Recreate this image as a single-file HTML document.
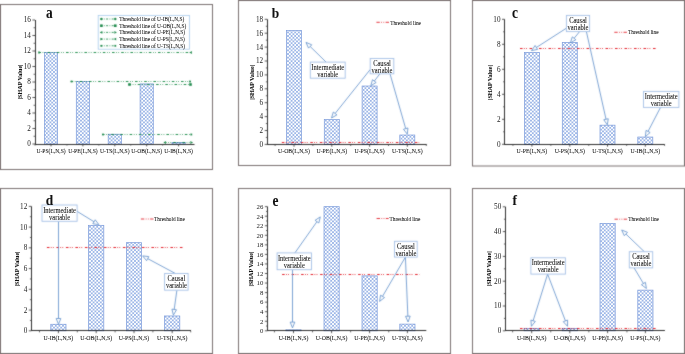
<!DOCTYPE html>
<html><head><meta charset="utf-8"><style>
html,body{margin:0;padding:0;background:#fff;width:685px;height:354px;overflow:hidden;}
svg{display:block;font-family:"Liberation Serif",serif;will-change:transform;}
text{stroke:#111;stroke-width:0.05px;}
text.t{stroke:none;fill:#222;}
</style></head><body>
<svg width="685" height="354" viewBox="0 0 685 354" font-family="Liberation Serif, serif" fill="#111" stroke-linecap="butt">
<defs><filter id="bl" filterUnits="userSpaceOnUse" x="0" y="0" width="685" height="354" color-interpolation-filters="sRGB"><feConvolveMatrix order="3" kernelMatrix="1 2 1 2 16 2 1 2 1" divisor="28" edgeMode="duplicate"/></filter><pattern id="hatch" patternUnits="userSpaceOnUse" width="3.6" height="3.6"><rect width="3.6" height="3.6" fill="#fff"/><path d="M-1,-1 L4.6,4.6 M4.6,-1 L-1,4.6" stroke="#88a7e2" stroke-width="0.75" fill="none"/></pattern></defs>
<rect width="685" height="354" fill="#fff"/>
<g><rect x="44.4" y="52.55" width="13.2" height="91.45" fill="url(#hatch)" stroke="#809fdc" stroke-width="0.75"/>
<rect x="76.3" y="81.61" width="13.2" height="62.39" fill="url(#hatch)" stroke="#809fdc" stroke-width="0.75"/>
<rect x="108.2" y="134.24" width="13.2" height="9.76" fill="url(#hatch)" stroke="#809fdc" stroke-width="0.75"/>
<rect x="140.1" y="83.94" width="13.2" height="60.06" fill="url(#hatch)" stroke="#809fdc" stroke-width="0.75"/>
<rect x="172" y="142.45" width="13.2" height="1.55" fill="url(#hatch)" stroke="#809fdc" stroke-width="0.75"/>
<rect x="286.5" y="30.42" width="15" height="113.98" fill="url(#hatch)" stroke="#809fdc" stroke-width="0.75"/>
<rect x="324.3" y="119.59" width="15" height="24.81" fill="url(#hatch)" stroke="#809fdc" stroke-width="0.75"/>
<rect x="362.1" y="86.02" width="15" height="58.38" fill="url(#hatch)" stroke="#809fdc" stroke-width="0.75"/>
<rect x="399.8" y="135.02" width="15" height="9.38" fill="url(#hatch)" stroke="#809fdc" stroke-width="0.75"/>
<rect x="524.4" y="52.43" width="15" height="91.88" fill="url(#hatch)" stroke="#809fdc" stroke-width="0.75"/>
<rect x="562.3" y="42.43" width="15" height="101.88" fill="url(#hatch)" stroke="#809fdc" stroke-width="0.75"/>
<rect x="600" y="125.18" width="15" height="19.12" fill="url(#hatch)" stroke="#809fdc" stroke-width="0.75"/>
<rect x="637.8" y="137.05" width="15" height="7.25" fill="url(#hatch)" stroke="#809fdc" stroke-width="0.75"/>
<rect x="50.8" y="324.27" width="15.2" height="6.53" fill="url(#hatch)" stroke="#809fdc" stroke-width="0.75"/>
<rect x="88.6" y="225.34" width="15.2" height="105.46" fill="url(#hatch)" stroke="#809fdc" stroke-width="0.75"/>
<rect x="126.4" y="242.66" width="15.2" height="88.14" fill="url(#hatch)" stroke="#809fdc" stroke-width="0.75"/>
<rect x="164.6" y="315.97" width="15.2" height="14.83" fill="url(#hatch)" stroke="#809fdc" stroke-width="0.75"/>
<rect x="285.9" y="329.85" width="15.2" height="0.95" fill="url(#hatch)" stroke="#809fdc" stroke-width="0.75"/>
<rect x="324" y="206.65" width="15.2" height="124.15" fill="url(#hatch)" stroke="#809fdc" stroke-width="0.75"/>
<rect x="362" y="275.89" width="15.2" height="54.91" fill="url(#hatch)" stroke="#809fdc" stroke-width="0.75"/>
<rect x="399.8" y="324.12" width="15.2" height="6.69" fill="url(#hatch)" stroke="#809fdc" stroke-width="0.75"/>
<rect x="524.1" y="328.32" width="15.2" height="2.48" fill="url(#hatch)" stroke="#809fdc" stroke-width="0.75"/>
<rect x="562.2" y="328.32" width="15.2" height="2.48" fill="url(#hatch)" stroke="#809fdc" stroke-width="0.75"/>
<rect x="600" y="223.42" width="15.2" height="107.38" fill="url(#hatch)" stroke="#809fdc" stroke-width="0.75"/>
<rect x="637.8" y="290.13" width="15.2" height="40.67" fill="url(#hatch)" stroke="#809fdc" stroke-width="0.75"/></g>
<g filter="url(#bl)">
<rect x="0.5" y="4.5" width="212" height="165" fill="none" stroke="#7a7070" stroke-width="1"/>
<line x1="35.5" y1="20" x2="35.5" y2="145" stroke="#2e2e2e" stroke-width="1" />
<line x1="35" y1="144.5" x2="194.5" y2="144.5" stroke="#2e2e2e" stroke-width="1" />
<line x1="32.4" y1="144" x2="35" y2="144" stroke="#2e2e2e" stroke-width="0.8" />
<line x1="32.4" y1="128.5" x2="35" y2="128.5" stroke="#2e2e2e" stroke-width="0.8" />
<line x1="32.4" y1="113" x2="35" y2="113" stroke="#2e2e2e" stroke-width="0.8" />
<line x1="32.4" y1="97.5" x2="35" y2="97.5" stroke="#2e2e2e" stroke-width="0.8" />
<line x1="32.4" y1="82" x2="35" y2="82" stroke="#2e2e2e" stroke-width="0.8" />
<line x1="32.4" y1="66.5" x2="35" y2="66.5" stroke="#2e2e2e" stroke-width="0.8" />
<line x1="32.4" y1="51" x2="35" y2="51" stroke="#2e2e2e" stroke-width="0.8" />
<line x1="32.4" y1="35.5" x2="35" y2="35.5" stroke="#2e2e2e" stroke-width="0.8" />
<line x1="32.4" y1="20" x2="35" y2="20" stroke="#2e2e2e" stroke-width="0.8" />
<line x1="33.5" y1="136.25" x2="35" y2="136.25" stroke="#2e2e2e" stroke-width="0.7" />
<line x1="33.5" y1="120.75" x2="35" y2="120.75" stroke="#2e2e2e" stroke-width="0.7" />
<line x1="33.5" y1="105.25" x2="35" y2="105.25" stroke="#2e2e2e" stroke-width="0.7" />
<line x1="33.5" y1="89.75" x2="35" y2="89.75" stroke="#2e2e2e" stroke-width="0.7" />
<line x1="33.5" y1="74.25" x2="35" y2="74.25" stroke="#2e2e2e" stroke-width="0.7" />
<line x1="33.5" y1="58.75" x2="35" y2="58.75" stroke="#2e2e2e" stroke-width="0.7" />
<line x1="33.5" y1="43.25" x2="35" y2="43.25" stroke="#2e2e2e" stroke-width="0.7" />
<line x1="33.5" y1="27.75" x2="35" y2="27.75" stroke="#2e2e2e" stroke-width="0.7" />
<line x1="51" y1="144" x2="51" y2="146.4" stroke="#2e2e2e" stroke-width="0.8" />
<line x1="82.9" y1="144" x2="82.9" y2="146.4" stroke="#2e2e2e" stroke-width="0.8" />
<line x1="114.8" y1="144" x2="114.8" y2="146.4" stroke="#2e2e2e" stroke-width="0.8" />
<line x1="146.7" y1="144" x2="146.7" y2="146.4" stroke="#2e2e2e" stroke-width="0.8" />
<line x1="178.6" y1="144" x2="178.6" y2="146.4" stroke="#2e2e2e" stroke-width="0.8" />
<line x1="35.05" y1="144" x2="35.05" y2="145.6" stroke="#2e2e2e" stroke-width="0.7" />
<line x1="66.95" y1="144" x2="66.95" y2="145.6" stroke="#2e2e2e" stroke-width="0.7" />
<line x1="98.85" y1="144" x2="98.85" y2="145.6" stroke="#2e2e2e" stroke-width="0.7" />
<line x1="130.75" y1="144" x2="130.75" y2="145.6" stroke="#2e2e2e" stroke-width="0.7" />
<line x1="162.65" y1="144" x2="162.65" y2="145.6" stroke="#2e2e2e" stroke-width="0.7" />
<rect x="238.5" y="0.5" width="212" height="165" fill="none" stroke="#7a7070" stroke-width="1"/>
<line x1="267.5" y1="19.3" x2="267.5" y2="145" stroke="#2e2e2e" stroke-width="1" />
<line x1="267" y1="144.5" x2="426.7" y2="144.5" stroke="#2e2e2e" stroke-width="1" />
<line x1="264.7" y1="144.4" x2="267.3" y2="144.4" stroke="#2e2e2e" stroke-width="0.8" />
<line x1="264.7" y1="130.5" x2="267.3" y2="130.5" stroke="#2e2e2e" stroke-width="0.8" />
<line x1="264.7" y1="116.6" x2="267.3" y2="116.6" stroke="#2e2e2e" stroke-width="0.8" />
<line x1="264.7" y1="102.7" x2="267.3" y2="102.7" stroke="#2e2e2e" stroke-width="0.8" />
<line x1="264.7" y1="88.8" x2="267.3" y2="88.8" stroke="#2e2e2e" stroke-width="0.8" />
<line x1="264.7" y1="74.9" x2="267.3" y2="74.9" stroke="#2e2e2e" stroke-width="0.8" />
<line x1="264.7" y1="61" x2="267.3" y2="61" stroke="#2e2e2e" stroke-width="0.8" />
<line x1="264.7" y1="47.1" x2="267.3" y2="47.1" stroke="#2e2e2e" stroke-width="0.8" />
<line x1="264.7" y1="33.2" x2="267.3" y2="33.2" stroke="#2e2e2e" stroke-width="0.8" />
<line x1="264.7" y1="19.3" x2="267.3" y2="19.3" stroke="#2e2e2e" stroke-width="0.8" />
<line x1="265.8" y1="137.45" x2="267.3" y2="137.45" stroke="#2e2e2e" stroke-width="0.7" />
<line x1="265.8" y1="123.55" x2="267.3" y2="123.55" stroke="#2e2e2e" stroke-width="0.7" />
<line x1="265.8" y1="109.65" x2="267.3" y2="109.65" stroke="#2e2e2e" stroke-width="0.7" />
<line x1="265.8" y1="95.75" x2="267.3" y2="95.75" stroke="#2e2e2e" stroke-width="0.7" />
<line x1="265.8" y1="81.85" x2="267.3" y2="81.85" stroke="#2e2e2e" stroke-width="0.7" />
<line x1="265.8" y1="67.95" x2="267.3" y2="67.95" stroke="#2e2e2e" stroke-width="0.7" />
<line x1="265.8" y1="54.05" x2="267.3" y2="54.05" stroke="#2e2e2e" stroke-width="0.7" />
<line x1="265.8" y1="40.15" x2="267.3" y2="40.15" stroke="#2e2e2e" stroke-width="0.7" />
<line x1="265.8" y1="26.25" x2="267.3" y2="26.25" stroke="#2e2e2e" stroke-width="0.7" />
<line x1="294" y1="144.4" x2="294" y2="146.8" stroke="#2e2e2e" stroke-width="0.8" />
<line x1="331.8" y1="144.4" x2="331.8" y2="146.8" stroke="#2e2e2e" stroke-width="0.8" />
<line x1="369.6" y1="144.4" x2="369.6" y2="146.8" stroke="#2e2e2e" stroke-width="0.8" />
<line x1="407.3" y1="144.4" x2="407.3" y2="146.8" stroke="#2e2e2e" stroke-width="0.8" />
<line x1="275.1" y1="144.4" x2="275.1" y2="146" stroke="#2e2e2e" stroke-width="0.7" />
<line x1="312.9" y1="144.4" x2="312.9" y2="146" stroke="#2e2e2e" stroke-width="0.7" />
<line x1="350.7" y1="144.4" x2="350.7" y2="146" stroke="#2e2e2e" stroke-width="0.7" />
<line x1="388.5" y1="144.4" x2="388.5" y2="146" stroke="#2e2e2e" stroke-width="0.7" />
<line x1="426.3" y1="144.4" x2="426.3" y2="146" stroke="#2e2e2e" stroke-width="0.7" />
<rect x="472.5" y="0.5" width="212" height="165.5" fill="none" stroke="#7a7070" stroke-width="1"/>
<line x1="504.5" y1="19.3" x2="504.5" y2="145" stroke="#2e2e2e" stroke-width="1" />
<line x1="504" y1="144.5" x2="664.8" y2="144.5" stroke="#2e2e2e" stroke-width="1" />
<line x1="502" y1="144.3" x2="504.6" y2="144.3" stroke="#2e2e2e" stroke-width="0.8" />
<line x1="502" y1="119.3" x2="504.6" y2="119.3" stroke="#2e2e2e" stroke-width="0.8" />
<line x1="502" y1="94.3" x2="504.6" y2="94.3" stroke="#2e2e2e" stroke-width="0.8" />
<line x1="502" y1="69.3" x2="504.6" y2="69.3" stroke="#2e2e2e" stroke-width="0.8" />
<line x1="502" y1="44.3" x2="504.6" y2="44.3" stroke="#2e2e2e" stroke-width="0.8" />
<line x1="502" y1="19.3" x2="504.6" y2="19.3" stroke="#2e2e2e" stroke-width="0.8" />
<line x1="503.1" y1="131.8" x2="504.6" y2="131.8" stroke="#2e2e2e" stroke-width="0.7" />
<line x1="503.1" y1="106.8" x2="504.6" y2="106.8" stroke="#2e2e2e" stroke-width="0.7" />
<line x1="503.1" y1="81.8" x2="504.6" y2="81.8" stroke="#2e2e2e" stroke-width="0.7" />
<line x1="503.1" y1="56.8" x2="504.6" y2="56.8" stroke="#2e2e2e" stroke-width="0.7" />
<line x1="503.1" y1="31.8" x2="504.6" y2="31.8" stroke="#2e2e2e" stroke-width="0.7" />
<line x1="531.9" y1="144.3" x2="531.9" y2="146.7" stroke="#2e2e2e" stroke-width="0.8" />
<line x1="569.8" y1="144.3" x2="569.8" y2="146.7" stroke="#2e2e2e" stroke-width="0.8" />
<line x1="607.5" y1="144.3" x2="607.5" y2="146.7" stroke="#2e2e2e" stroke-width="0.8" />
<line x1="645.3" y1="144.3" x2="645.3" y2="146.7" stroke="#2e2e2e" stroke-width="0.8" />
<line x1="512.95" y1="144.3" x2="512.95" y2="145.9" stroke="#2e2e2e" stroke-width="0.7" />
<line x1="550.85" y1="144.3" x2="550.85" y2="145.9" stroke="#2e2e2e" stroke-width="0.7" />
<line x1="588.75" y1="144.3" x2="588.75" y2="145.9" stroke="#2e2e2e" stroke-width="0.7" />
<line x1="626.65" y1="144.3" x2="626.65" y2="145.9" stroke="#2e2e2e" stroke-width="0.7" />
<line x1="664.55" y1="144.3" x2="664.55" y2="145.9" stroke="#2e2e2e" stroke-width="0.7" />
<rect x="0.5" y="188.5" width="212" height="165" fill="none" stroke="#7a7070" stroke-width="1"/>
<line x1="31.5" y1="206.36" x2="31.5" y2="331" stroke="#2e2e2e" stroke-width="1" />
<line x1="31" y1="330.5" x2="191" y2="330.5" stroke="#2e2e2e" stroke-width="1" />
<line x1="28.8" y1="330.8" x2="31.4" y2="330.8" stroke="#2e2e2e" stroke-width="0.8" />
<line x1="28.8" y1="310.06" x2="31.4" y2="310.06" stroke="#2e2e2e" stroke-width="0.8" />
<line x1="28.8" y1="289.32" x2="31.4" y2="289.32" stroke="#2e2e2e" stroke-width="0.8" />
<line x1="28.8" y1="268.58" x2="31.4" y2="268.58" stroke="#2e2e2e" stroke-width="0.8" />
<line x1="28.8" y1="247.84" x2="31.4" y2="247.84" stroke="#2e2e2e" stroke-width="0.8" />
<line x1="28.8" y1="227.1" x2="31.4" y2="227.1" stroke="#2e2e2e" stroke-width="0.8" />
<line x1="28.8" y1="206.36" x2="31.4" y2="206.36" stroke="#2e2e2e" stroke-width="0.8" />
<line x1="29.9" y1="320.43" x2="31.4" y2="320.43" stroke="#2e2e2e" stroke-width="0.7" />
<line x1="29.9" y1="299.69" x2="31.4" y2="299.69" stroke="#2e2e2e" stroke-width="0.7" />
<line x1="29.9" y1="278.95" x2="31.4" y2="278.95" stroke="#2e2e2e" stroke-width="0.7" />
<line x1="29.9" y1="258.21" x2="31.4" y2="258.21" stroke="#2e2e2e" stroke-width="0.7" />
<line x1="29.9" y1="237.47" x2="31.4" y2="237.47" stroke="#2e2e2e" stroke-width="0.7" />
<line x1="29.9" y1="216.73" x2="31.4" y2="216.73" stroke="#2e2e2e" stroke-width="0.7" />
<line x1="58.4" y1="330.8" x2="58.4" y2="333.2" stroke="#2e2e2e" stroke-width="0.8" />
<line x1="96.2" y1="330.8" x2="96.2" y2="333.2" stroke="#2e2e2e" stroke-width="0.8" />
<line x1="134" y1="330.8" x2="134" y2="333.2" stroke="#2e2e2e" stroke-width="0.8" />
<line x1="172.2" y1="330.8" x2="172.2" y2="333.2" stroke="#2e2e2e" stroke-width="0.8" />
<line x1="39.5" y1="330.8" x2="39.5" y2="332.4" stroke="#2e2e2e" stroke-width="0.7" />
<line x1="77.3" y1="330.8" x2="77.3" y2="332.4" stroke="#2e2e2e" stroke-width="0.7" />
<line x1="115.1" y1="330.8" x2="115.1" y2="332.4" stroke="#2e2e2e" stroke-width="0.7" />
<line x1="152.9" y1="330.8" x2="152.9" y2="332.4" stroke="#2e2e2e" stroke-width="0.7" />
<line x1="190.7" y1="330.8" x2="190.7" y2="332.4" stroke="#2e2e2e" stroke-width="0.7" />
<rect x="238.5" y="188.5" width="212" height="165" fill="none" stroke="#7a7070" stroke-width="1"/>
<line x1="267.5" y1="206.65" x2="267.5" y2="331" stroke="#2e2e2e" stroke-width="1" />
<line x1="267" y1="330.5" x2="426.3" y2="330.5" stroke="#2e2e2e" stroke-width="1" />
<line x1="264.9" y1="330.8" x2="267.5" y2="330.8" stroke="#2e2e2e" stroke-width="0.8" />
<line x1="264.9" y1="321.25" x2="267.5" y2="321.25" stroke="#2e2e2e" stroke-width="0.8" />
<line x1="264.9" y1="311.7" x2="267.5" y2="311.7" stroke="#2e2e2e" stroke-width="0.8" />
<line x1="264.9" y1="302.15" x2="267.5" y2="302.15" stroke="#2e2e2e" stroke-width="0.8" />
<line x1="264.9" y1="292.6" x2="267.5" y2="292.6" stroke="#2e2e2e" stroke-width="0.8" />
<line x1="264.9" y1="283.05" x2="267.5" y2="283.05" stroke="#2e2e2e" stroke-width="0.8" />
<line x1="264.9" y1="273.5" x2="267.5" y2="273.5" stroke="#2e2e2e" stroke-width="0.8" />
<line x1="264.9" y1="263.95" x2="267.5" y2="263.95" stroke="#2e2e2e" stroke-width="0.8" />
<line x1="264.9" y1="254.4" x2="267.5" y2="254.4" stroke="#2e2e2e" stroke-width="0.8" />
<line x1="264.9" y1="244.85" x2="267.5" y2="244.85" stroke="#2e2e2e" stroke-width="0.8" />
<line x1="264.9" y1="235.3" x2="267.5" y2="235.3" stroke="#2e2e2e" stroke-width="0.8" />
<line x1="264.9" y1="225.75" x2="267.5" y2="225.75" stroke="#2e2e2e" stroke-width="0.8" />
<line x1="264.9" y1="216.2" x2="267.5" y2="216.2" stroke="#2e2e2e" stroke-width="0.8" />
<line x1="264.9" y1="206.65" x2="267.5" y2="206.65" stroke="#2e2e2e" stroke-width="0.8" />
<line x1="266" y1="326.03" x2="267.5" y2="326.03" stroke="#2e2e2e" stroke-width="0.7" />
<line x1="266" y1="316.48" x2="267.5" y2="316.48" stroke="#2e2e2e" stroke-width="0.7" />
<line x1="266" y1="306.93" x2="267.5" y2="306.93" stroke="#2e2e2e" stroke-width="0.7" />
<line x1="266" y1="297.38" x2="267.5" y2="297.38" stroke="#2e2e2e" stroke-width="0.7" />
<line x1="266" y1="287.82" x2="267.5" y2="287.82" stroke="#2e2e2e" stroke-width="0.7" />
<line x1="266" y1="278.27" x2="267.5" y2="278.27" stroke="#2e2e2e" stroke-width="0.7" />
<line x1="266" y1="268.73" x2="267.5" y2="268.73" stroke="#2e2e2e" stroke-width="0.7" />
<line x1="266" y1="259.18" x2="267.5" y2="259.18" stroke="#2e2e2e" stroke-width="0.7" />
<line x1="266" y1="249.62" x2="267.5" y2="249.62" stroke="#2e2e2e" stroke-width="0.7" />
<line x1="266" y1="240.07" x2="267.5" y2="240.07" stroke="#2e2e2e" stroke-width="0.7" />
<line x1="266" y1="230.53" x2="267.5" y2="230.53" stroke="#2e2e2e" stroke-width="0.7" />
<line x1="266" y1="220.98" x2="267.5" y2="220.98" stroke="#2e2e2e" stroke-width="0.7" />
<line x1="266" y1="211.43" x2="267.5" y2="211.43" stroke="#2e2e2e" stroke-width="0.7" />
<line x1="293.5" y1="330.8" x2="293.5" y2="333.2" stroke="#2e2e2e" stroke-width="0.8" />
<line x1="331.6" y1="330.8" x2="331.6" y2="333.2" stroke="#2e2e2e" stroke-width="0.8" />
<line x1="369.6" y1="330.8" x2="369.6" y2="333.2" stroke="#2e2e2e" stroke-width="0.8" />
<line x1="407.4" y1="330.8" x2="407.4" y2="333.2" stroke="#2e2e2e" stroke-width="0.8" />
<line x1="274.45" y1="330.8" x2="274.45" y2="332.4" stroke="#2e2e2e" stroke-width="0.7" />
<line x1="312.55" y1="330.8" x2="312.55" y2="332.4" stroke="#2e2e2e" stroke-width="0.7" />
<line x1="350.65" y1="330.8" x2="350.65" y2="332.4" stroke="#2e2e2e" stroke-width="0.7" />
<line x1="388.75" y1="330.8" x2="388.75" y2="332.4" stroke="#2e2e2e" stroke-width="0.7" />
<rect x="472.5" y="188.5" width="212" height="165" fill="none" stroke="#7a7070" stroke-width="1"/>
<line x1="505.5" y1="206.8" x2="505.5" y2="331" stroke="#2e2e2e" stroke-width="1" />
<line x1="505" y1="330.5" x2="664.9" y2="330.5" stroke="#2e2e2e" stroke-width="1" />
<line x1="502.8" y1="330.8" x2="505.4" y2="330.8" stroke="#2e2e2e" stroke-width="0.8" />
<line x1="502.8" y1="306" x2="505.4" y2="306" stroke="#2e2e2e" stroke-width="0.8" />
<line x1="502.8" y1="281.2" x2="505.4" y2="281.2" stroke="#2e2e2e" stroke-width="0.8" />
<line x1="502.8" y1="256.4" x2="505.4" y2="256.4" stroke="#2e2e2e" stroke-width="0.8" />
<line x1="502.8" y1="231.6" x2="505.4" y2="231.6" stroke="#2e2e2e" stroke-width="0.8" />
<line x1="502.8" y1="206.8" x2="505.4" y2="206.8" stroke="#2e2e2e" stroke-width="0.8" />
<line x1="503.9" y1="318.4" x2="505.4" y2="318.4" stroke="#2e2e2e" stroke-width="0.7" />
<line x1="503.9" y1="293.6" x2="505.4" y2="293.6" stroke="#2e2e2e" stroke-width="0.7" />
<line x1="503.9" y1="268.8" x2="505.4" y2="268.8" stroke="#2e2e2e" stroke-width="0.7" />
<line x1="503.9" y1="244" x2="505.4" y2="244" stroke="#2e2e2e" stroke-width="0.7" />
<line x1="503.9" y1="219.2" x2="505.4" y2="219.2" stroke="#2e2e2e" stroke-width="0.7" />
<line x1="531.7" y1="330.8" x2="531.7" y2="333.2" stroke="#2e2e2e" stroke-width="0.8" />
<line x1="569.8" y1="330.8" x2="569.8" y2="333.2" stroke="#2e2e2e" stroke-width="0.8" />
<line x1="607.6" y1="330.8" x2="607.6" y2="333.2" stroke="#2e2e2e" stroke-width="0.8" />
<line x1="645.4" y1="330.8" x2="645.4" y2="333.2" stroke="#2e2e2e" stroke-width="0.8" />
<line x1="512.65" y1="330.8" x2="512.65" y2="332.4" stroke="#2e2e2e" stroke-width="0.7" />
<line x1="550.75" y1="330.8" x2="550.75" y2="332.4" stroke="#2e2e2e" stroke-width="0.7" />
<line x1="588.85" y1="330.8" x2="588.85" y2="332.4" stroke="#2e2e2e" stroke-width="0.7" />
<line x1="626.95" y1="330.8" x2="626.95" y2="332.4" stroke="#2e2e2e" stroke-width="0.7" />
<line x1="38.4" y1="52.5" x2="192" y2="52.5" stroke="#23904f" stroke-width="1" stroke-dasharray="2.6 1.6 0.7 1.5 0.7 2.1"/>
<polygon points="41,52.5 38.5,51.1 38.5,53.9" fill="#1f8a4c"/>
<polygon points="189.4,52.5 191.9,51.1 191.9,53.9" fill="#1f8a4c"/>
<line x1="70.6" y1="81.5" x2="191" y2="81.5" stroke="#23904f" stroke-width="1" stroke-dasharray="2.6 1.6 0.7 1.5 0.7 2.1"/>
<rect x="70.7" y="80.6" width="1.8" height="1.8" fill="#1f8a4c"/>
<rect x="189.1" y="80.6" width="1.8" height="1.8" fill="#1f8a4c"/>
<line x1="128.5" y1="84.5" x2="191.5" y2="84.5" stroke="#23904f" stroke-width="1" stroke-dasharray="2.6 1.6 0.7 1.5 0.7 2.1"/>
<rect x="128.2" y="83.2" width="2.6" height="2.6" fill="#1f8a4c"/>
<rect x="189.2" y="83.2" width="2.6" height="2.6" fill="#1f8a4c"/>
<line x1="102" y1="134.5" x2="192.3" y2="134.5" stroke="#23904f" stroke-width="1" stroke-dasharray="2.6 1.6 0.7 1.5 0.7 2.1"/>
<rect x="102.1" y="133.6" width="1.8" height="1.8" fill="#1f8a4c"/>
<rect x="190.4" y="133.6" width="1.8" height="1.8" fill="#1f8a4c"/>
<line x1="164" y1="142.5" x2="192.3" y2="142.5" stroke="#23904f" stroke-width="1" stroke-dasharray="2.6 1.6 0.7 1.5 0.7 2.1"/>
<polygon points="163.4,142.5 165.9,141.1 165.9,143.9" fill="#1f8a4c"/>
<polygon points="192.9,142.5 190.4,141.1 190.4,143.9" fill="#1f8a4c"/>
<rect x="98.2" y="15.5" width="91.3" height="33.7" fill="none" stroke="#a9cbeb" stroke-width="0.8"/>
<line x1="100.5" y1="19" x2="116.3" y2="19" stroke="#23904f" stroke-width="0.9" stroke-dasharray="2 1.4 0.8 1.4"/>
<circle cx="101.4" cy="19" r="1.2" fill="#1f8a4c"/>
<circle cx="115.3" cy="19" r="1.2" fill="#1f8a4c"/>
<line x1="100.5" y1="25.7" x2="116.3" y2="25.7" stroke="#23904f" stroke-width="0.9" stroke-dasharray="2 1.4 0.8 1.4"/>
<rect x="100.1" y="24.4" width="2.6" height="2.6" fill="#1f8a4c"/>
<rect x="114" y="24.4" width="2.6" height="2.6" fill="#1f8a4c"/>
<line x1="100.5" y1="32.4" x2="116.3" y2="32.4" stroke="#23904f" stroke-width="0.9" stroke-dasharray="2 1.4 0.8 1.4"/>
<polygon points="99.8,32.4 102.3,31 102.3,33.8" fill="#1f8a4c"/>
<polygon points="116.9,32.4 114.4,31 114.4,33.8" fill="#1f8a4c"/>
<line x1="100.5" y1="39.1" x2="116.3" y2="39.1" stroke="#23904f" stroke-width="0.9" stroke-dasharray="2 1.4 0.8 1.4"/>
<polygon points="103,39.1 100.5,37.7 100.5,40.5" fill="#1f8a4c"/>
<polygon points="113.7,39.1 116.2,37.7 116.2,40.5" fill="#1f8a4c"/>
<line x1="100.5" y1="45.8" x2="116.3" y2="45.8" stroke="#23904f" stroke-width="0.9" stroke-dasharray="2 1.4 0.8 1.4"/>
<rect x="100.5" y="44.9" width="1.8" height="1.8" fill="#1f8a4c"/>
<rect x="114.4" y="44.9" width="1.8" height="1.8" fill="#1f8a4c"/>
<line x1="281.8" y1="142.5" x2="419.2" y2="142.5" stroke="#e3202a" stroke-width="1.0" stroke-dasharray="2.6 1.3 0.8 1.3 0.8 2.7"/>
<line x1="376.4" y1="22.3" x2="389.3" y2="22.3" stroke="#e3202a" stroke-width="0.9" stroke-dasharray="3.4 1.4 0.8 1.4 0.8 1.4"/>
<line x1="326.1" y1="62.1" x2="310.14" y2="46.46" stroke="#5b8cc8" stroke-width="0.8"/>
<polygon points="306,42.4 311.75,44.82 308.53,48.1" fill="#fff" stroke="#5b8cc8" stroke-width="0.8"/>
<rect x="310.3" y="62.1" width="34.9" height="16.1" fill="#fff" stroke="#a5c0e6" stroke-width="0.9"/>
<line x1="370.3" y1="69.4" x2="335.12" y2="113.47" stroke="#5b8cc8" stroke-width="0.8"/>
<polygon points="331.5,118 333.32,112.03 336.92,114.9" fill="#fff" stroke="#5b8cc8" stroke-width="0.8"/>
<line x1="379.9" y1="73.8" x2="374.32" y2="81.09" stroke="#5b8cc8" stroke-width="0.8"/>
<polygon points="370.8,85.7 372.5,79.7 376.15,82.49" fill="#fff" stroke="#5b8cc8" stroke-width="0.8"/>
<line x1="390" y1="73.8" x2="405.7" y2="128.62" stroke="#5b8cc8" stroke-width="0.8"/>
<polygon points="407.3,134.2 403.49,129.26 407.91,127.99" fill="#fff" stroke="#5b8cc8" stroke-width="0.8"/>
<rect x="370.2" y="58.5" width="23.6" height="15.3" fill="#fff" stroke="#a5c0e6" stroke-width="0.9"/>
<line x1="520" y1="48.5" x2="656.5" y2="48.5" stroke="#e3202a" stroke-width="1.0" stroke-dasharray="2.6 1.3 0.8 1.3 0.8 2.7"/>
<line x1="614.3" y1="32.3" x2="627" y2="32.3" stroke="#e3202a" stroke-width="0.9" stroke-dasharray="3.4 1.4 0.8 1.4 0.8 1.4"/>
<line x1="566.4" y1="28.2" x2="536.38" y2="47.47" stroke="#5b8cc8" stroke-width="0.8"/>
<polygon points="531.5,50.6 535.14,45.53 537.62,49.4" fill="#fff" stroke="#5b8cc8" stroke-width="0.8"/>
<line x1="579.6" y1="31.6" x2="574.08" y2="38.32" stroke="#5b8cc8" stroke-width="0.8"/>
<polygon points="570.4,42.8 572.3,36.86 575.86,39.78" fill="#fff" stroke="#5b8cc8" stroke-width="0.8"/>
<line x1="586.4" y1="31.6" x2="606.03" y2="119.24" stroke="#5b8cc8" stroke-width="0.8"/>
<polygon points="607.3,124.9 603.79,119.74 608.28,118.74" fill="#fff" stroke="#5b8cc8" stroke-width="0.8"/>
<rect x="566.4" y="15.4" width="23.2" height="16.2" fill="#fff" stroke="#a5c0e6" stroke-width="0.9"/>
<line x1="660.5" y1="107.4" x2="648.06" y2="131.45" stroke="#5b8cc8" stroke-width="0.8"/>
<polygon points="645.4,136.6 646.02,130.39 650.11,132.5" fill="#fff" stroke="#5b8cc8" stroke-width="0.8"/>
<rect x="643.5" y="91.4" width="35.4" height="16" fill="#fff" stroke="#a5c0e6" stroke-width="0.9"/>
<line x1="46.9" y1="247.5" x2="183.8" y2="247.5" stroke="#e3202a" stroke-width="1.0" stroke-dasharray="2.6 1.3 0.8 1.3 0.8 2.7"/>
<line x1="140.9" y1="219" x2="153.7" y2="219" stroke="#e3202a" stroke-width="0.9" stroke-dasharray="3.4 1.4 0.8 1.4 0.8 1.4"/>
<line x1="77" y1="211.3" x2="94.06" y2="221.77" stroke="#5b8cc8" stroke-width="0.8"/>
<polygon points="99,224.8 92.85,223.73 95.26,219.81" fill="#fff" stroke="#5b8cc8" stroke-width="0.8"/>
<line x1="58.5" y1="221.3" x2="58.5" y2="318.5" stroke="#5b8cc8" stroke-width="0.8"/>
<polygon points="58.5,324.3 56.2,318.5 60.8,318.5" fill="#fff" stroke="#5b8cc8" stroke-width="0.8"/>
<rect x="42" y="205" width="35.1" height="16.3" fill="#fff" stroke="#a5c0e6" stroke-width="0.9"/>
<line x1="175.4" y1="273.5" x2="147.71" y2="258.64" stroke="#5b8cc8" stroke-width="0.8"/>
<polygon points="142.6,255.9 148.8,256.62 146.62,260.67" fill="#fff" stroke="#5b8cc8" stroke-width="0.8"/>
<line x1="176.9" y1="290.2" x2="174.2" y2="309.46" stroke="#5b8cc8" stroke-width="0.8"/>
<polygon points="173.4,315.2 171.93,309.14 176.48,309.77" fill="#fff" stroke="#5b8cc8" stroke-width="0.8"/>
<rect x="164.6" y="273.5" width="23.5" height="16.7" fill="#fff" stroke="#a5c0e6" stroke-width="0.9"/>
<line x1="282.1" y1="274.5" x2="419.3" y2="274.5" stroke="#e3202a" stroke-width="1.0" stroke-dasharray="2.6 1.3 0.8 1.3 0.8 2.7"/>
<line x1="376.6" y1="218.5" x2="388.7" y2="218.5" stroke="#e3202a" stroke-width="0.9" stroke-dasharray="3.4 1.4 0.8 1.4 0.8 1.4"/>
<line x1="294.9" y1="252.9" x2="316.96" y2="221.64" stroke="#5b8cc8" stroke-width="0.8"/>
<polygon points="320.3,216.9 318.84,222.97 315.08,220.31" fill="#fff" stroke="#5b8cc8" stroke-width="0.8"/>
<line x1="292.5" y1="269.7" x2="292.5" y2="322.1" stroke="#5b8cc8" stroke-width="0.8"/>
<polygon points="292.5,327.9 290.2,322.1 294.8,322.1" fill="#fff" stroke="#5b8cc8" stroke-width="0.8"/>
<rect x="277.1" y="252.9" width="34.4" height="16.8" fill="#fff" stroke="#a5c0e6" stroke-width="0.9"/>
<line x1="405.4" y1="257.1" x2="382.52" y2="296.39" stroke="#5b8cc8" stroke-width="0.8"/>
<polygon points="379.6,301.4 380.53,295.23 384.51,297.55" fill="#fff" stroke="#5b8cc8" stroke-width="0.8"/>
<line x1="405.4" y1="257.1" x2="407.86" y2="316.21" stroke="#5b8cc8" stroke-width="0.8"/>
<polygon points="408.1,322 405.56,316.3 410.16,316.11" fill="#fff" stroke="#5b8cc8" stroke-width="0.8"/>
<rect x="394.5" y="241.3" width="22.7" height="15.8" fill="#fff" stroke="#a5c0e6" stroke-width="0.9"/>
<line x1="520" y1="328.5" x2="656.6" y2="328.5" stroke="#e3202a" stroke-width="1.0" stroke-dasharray="2.6 1.3 0.8 1.3 0.8 2.7"/>
<line x1="614.5" y1="219.2" x2="627.3" y2="219.2" stroke="#e3202a" stroke-width="0.9" stroke-dasharray="3.4 1.4 0.8 1.4 0.8 1.4"/>
<line x1="547.6" y1="274.1" x2="533.12" y2="320.76" stroke="#5b8cc8" stroke-width="0.8"/>
<polygon points="531.4,326.3 530.92,320.08 535.32,321.44" fill="#fff" stroke="#5b8cc8" stroke-width="0.8"/>
<line x1="547.6" y1="274.1" x2="565.43" y2="320.88" stroke="#5b8cc8" stroke-width="0.8"/>
<polygon points="567.5,326.3 563.28,321.7 567.58,320.06" fill="#fff" stroke="#5b8cc8" stroke-width="0.8"/>
<rect x="530.9" y="257.8" width="34.5" height="16.3" fill="#fff" stroke="#a5c0e6" stroke-width="0.9"/>
<line x1="644.3" y1="251.7" x2="625.88" y2="234.02" stroke="#5b8cc8" stroke-width="0.8"/>
<polygon points="621.7,230 627.48,232.36 624.29,235.68" fill="#fff" stroke="#5b8cc8" stroke-width="0.8"/>
<line x1="634.1" y1="267.9" x2="643.43" y2="283.52" stroke="#5b8cc8" stroke-width="0.8"/>
<polygon points="646.4,288.5 641.45,284.7 645.4,282.34" fill="#fff" stroke="#5b8cc8" stroke-width="0.8"/>
<rect x="629.3" y="251.7" width="23.4" height="16.2" fill="#fff" stroke="#a5c0e6" stroke-width="0.9"/>
</g><g>
<text x="30.9" y="146.45" font-size="7.2" text-anchor="end" font-weight="normal" class="t">0</text>
<text x="30.9" y="130.95" font-size="7.2" text-anchor="end" font-weight="normal" class="t">2</text>
<text x="30.9" y="115.45" font-size="7.2" text-anchor="end" font-weight="normal" class="t">4</text>
<text x="30.9" y="99.95" font-size="7.2" text-anchor="end" font-weight="normal" class="t">6</text>
<text x="30.9" y="84.45" font-size="7.2" text-anchor="end" font-weight="normal" class="t">8</text>
<text x="30.9" y="68.95" font-size="7.2" text-anchor="end" font-weight="normal" class="t">10</text>
<text x="30.9" y="53.45" font-size="7.2" text-anchor="end" font-weight="normal" class="t">12</text>
<text x="30.9" y="37.95" font-size="7.2" text-anchor="end" font-weight="normal" class="t">14</text>
<text x="30.9" y="22.45" font-size="7.2" text-anchor="end" font-weight="normal" class="t">16</text>
<text x="51" y="153" font-size="5.6" text-anchor="middle" font-weight="normal" >U-PS(L,N,S)</text>
<text x="82.9" y="153" font-size="5.6" text-anchor="middle" font-weight="normal" >U-PE(L,N,S)</text>
<text x="114.8" y="153" font-size="5.6" text-anchor="middle" font-weight="normal" >U-TS(L,N,S)</text>
<text x="146.7" y="153" font-size="5.6" text-anchor="middle" font-weight="normal" >U-OB(L,N,S)</text>
<text x="178.6" y="153" font-size="5.6" text-anchor="middle" font-weight="normal" >U-IB(L,N,S)</text>
<text transform="translate(19.5,81.9) rotate(-90)" x="0" y="0" font-size="6.1" font-weight="bold" text-anchor="middle" dominant-baseline="central">|SHAP Value|</text>
<text transform="translate(46,18.2) scale(1,1.2)" x="0" y="0" font-size="13.4" font-weight="bold">a</text>
<text x="263.2" y="146.85" font-size="7.2" text-anchor="end" font-weight="normal" class="t">0</text>
<text x="263.2" y="132.95" font-size="7.2" text-anchor="end" font-weight="normal" class="t">2</text>
<text x="263.2" y="119.05" font-size="7.2" text-anchor="end" font-weight="normal" class="t">4</text>
<text x="263.2" y="105.15" font-size="7.2" text-anchor="end" font-weight="normal" class="t">6</text>
<text x="263.2" y="91.25" font-size="7.2" text-anchor="end" font-weight="normal" class="t">8</text>
<text x="263.2" y="77.35" font-size="7.2" text-anchor="end" font-weight="normal" class="t">10</text>
<text x="263.2" y="63.45" font-size="7.2" text-anchor="end" font-weight="normal" class="t">12</text>
<text x="263.2" y="49.55" font-size="7.2" text-anchor="end" font-weight="normal" class="t">14</text>
<text x="263.2" y="35.65" font-size="7.2" text-anchor="end" font-weight="normal" class="t">16</text>
<text x="263.2" y="21.75" font-size="7.2" text-anchor="end" font-weight="normal" class="t">18</text>
<text x="294" y="153" font-size="5.8" text-anchor="middle" font-weight="normal" >U-OB(L,N,S)</text>
<text x="331.8" y="153" font-size="5.8" text-anchor="middle" font-weight="normal" >U-PE(L,N,S)</text>
<text x="369.6" y="153" font-size="5.8" text-anchor="middle" font-weight="normal" >U-PS(L,N,S)</text>
<text x="407.3" y="153" font-size="5.8" text-anchor="middle" font-weight="normal" >U-TS(L,N,S)</text>
<text transform="translate(252,82.3) rotate(-90)" x="0" y="0" font-size="6.1" font-weight="bold" text-anchor="middle" dominant-baseline="central">|SHAP Value|</text>
<text transform="translate(271.8,17.8) scale(1,1.08)" x="0" y="0" font-size="13.4" font-weight="bold">b</text>
<text x="500.5" y="146.75" font-size="7.2" text-anchor="end" font-weight="normal" class="t">0</text>
<text x="500.5" y="121.75" font-size="7.2" text-anchor="end" font-weight="normal" class="t">2</text>
<text x="500.5" y="96.75" font-size="7.2" text-anchor="end" font-weight="normal" class="t">4</text>
<text x="500.5" y="71.75" font-size="7.2" text-anchor="end" font-weight="normal" class="t">6</text>
<text x="500.5" y="46.75" font-size="7.2" text-anchor="end" font-weight="normal" class="t">8</text>
<text x="500.5" y="21.75" font-size="7.2" text-anchor="end" font-weight="normal" class="t">10</text>
<text x="531.9" y="153" font-size="5.8" text-anchor="middle" font-weight="normal" >U-PE(L,N,S)</text>
<text x="569.8" y="153" font-size="5.8" text-anchor="middle" font-weight="normal" >U-PS(L,N,S)</text>
<text x="607.5" y="153" font-size="5.8" text-anchor="middle" font-weight="normal" >U-TS(L,N,S)</text>
<text x="645.3" y="153" font-size="5.8" text-anchor="middle" font-weight="normal" >U-IB(L,N,S)</text>
<text transform="translate(489.9,82.6) rotate(-90)" x="0" y="0" font-size="6.1" font-weight="bold" text-anchor="middle" dominant-baseline="central">|SHAP Value|</text>
<text transform="translate(512,17.8) scale(1,1.2)" x="0" y="0" font-size="13.4" font-weight="bold">c</text>
<text x="27.3" y="333.25" font-size="7.2" text-anchor="end" font-weight="normal" class="t">0</text>
<text x="27.3" y="312.51" font-size="7.2" text-anchor="end" font-weight="normal" class="t">2</text>
<text x="27.3" y="291.77" font-size="7.2" text-anchor="end" font-weight="normal" class="t">4</text>
<text x="27.3" y="271.03" font-size="7.2" text-anchor="end" font-weight="normal" class="t">6</text>
<text x="27.3" y="250.29" font-size="7.2" text-anchor="end" font-weight="normal" class="t">8</text>
<text x="27.3" y="229.55" font-size="7.2" text-anchor="end" font-weight="normal" class="t">10</text>
<text x="27.3" y="208.81" font-size="7.2" text-anchor="end" font-weight="normal" class="t">12</text>
<text x="58.4" y="339.5" font-size="5.8" text-anchor="middle" font-weight="normal" >U-IB(L,N,S)</text>
<text x="96.2" y="339.5" font-size="5.8" text-anchor="middle" font-weight="normal" >U-OB(L,N,S)</text>
<text x="134" y="339.5" font-size="5.8" text-anchor="middle" font-weight="normal" >U-PS(L,N,S)</text>
<text x="172.2" y="339.5" font-size="5.8" text-anchor="middle" font-weight="normal" >U-TS(L,N,S)</text>
<text transform="translate(17.2,268.9) rotate(-90)" x="0" y="0" font-size="6.1" font-weight="bold" text-anchor="middle" dominant-baseline="central">|SHAP Value|</text>
<text transform="translate(45.8,204.6) scale(1,1.08)" x="0" y="0" font-size="13.4" font-weight="bold">d</text>
<text x="263.4" y="333.11" font-size="6.8" text-anchor="end" font-weight="normal" class="t">0</text>
<text x="263.4" y="323.56" font-size="6.8" text-anchor="end" font-weight="normal" class="t">2</text>
<text x="263.4" y="314.01" font-size="6.8" text-anchor="end" font-weight="normal" class="t">4</text>
<text x="263.4" y="304.46" font-size="6.8" text-anchor="end" font-weight="normal" class="t">6</text>
<text x="263.4" y="294.91" font-size="6.8" text-anchor="end" font-weight="normal" class="t">8</text>
<text x="263.4" y="285.36" font-size="6.8" text-anchor="end" font-weight="normal" class="t">10</text>
<text x="263.4" y="275.81" font-size="6.8" text-anchor="end" font-weight="normal" class="t">12</text>
<text x="263.4" y="266.26" font-size="6.8" text-anchor="end" font-weight="normal" class="t">14</text>
<text x="263.4" y="256.71" font-size="6.8" text-anchor="end" font-weight="normal" class="t">16</text>
<text x="263.4" y="247.16" font-size="6.8" text-anchor="end" font-weight="normal" class="t">18</text>
<text x="263.4" y="237.61" font-size="6.8" text-anchor="end" font-weight="normal" class="t">20</text>
<text x="263.4" y="228.06" font-size="6.8" text-anchor="end" font-weight="normal" class="t">22</text>
<text x="263.4" y="218.51" font-size="6.8" text-anchor="end" font-weight="normal" class="t">24</text>
<text x="263.4" y="208.96" font-size="6.8" text-anchor="end" font-weight="normal" class="t">26</text>
<text x="293.5" y="339.5" font-size="5.8" text-anchor="middle" font-weight="normal" >U-IB(L,N,S)</text>
<text x="331.6" y="339.5" font-size="5.8" text-anchor="middle" font-weight="normal" >U-OB(L,N,S)</text>
<text x="369.6" y="339.5" font-size="5.8" text-anchor="middle" font-weight="normal" >U-PE(L,N,S)</text>
<text x="407.4" y="339.5" font-size="5.8" text-anchor="middle" font-weight="normal" >U-TS(L,N,S)</text>
<text transform="translate(251,269.1) rotate(-90)" x="0" y="0" font-size="6.1" font-weight="bold" text-anchor="middle" dominant-baseline="central">|SHAP Value|</text>
<text transform="translate(272.5,205.9) scale(1,1.2)" x="0" y="0" font-size="13.4" font-weight="bold">e</text>
<text x="501.3" y="333.25" font-size="7.2" text-anchor="end" font-weight="normal" class="t">0</text>
<text x="501.3" y="308.45" font-size="7.2" text-anchor="end" font-weight="normal" class="t">10</text>
<text x="501.3" y="283.65" font-size="7.2" text-anchor="end" font-weight="normal" class="t">20</text>
<text x="501.3" y="258.85" font-size="7.2" text-anchor="end" font-weight="normal" class="t">30</text>
<text x="501.3" y="234.05" font-size="7.2" text-anchor="end" font-weight="normal" class="t">40</text>
<text x="501.3" y="209.25" font-size="7.2" text-anchor="end" font-weight="normal" class="t">50</text>
<text x="531.7" y="339.5" font-size="5.8" text-anchor="middle" font-weight="normal" >U-IB(L,N,S)</text>
<text x="569.8" y="339.5" font-size="5.8" text-anchor="middle" font-weight="normal" >U-OB(L,N,S)</text>
<text x="607.6" y="339.5" font-size="5.8" text-anchor="middle" font-weight="normal" >U-PE(L,N,S)</text>
<text x="645.4" y="339.5" font-size="5.8" text-anchor="middle" font-weight="normal" >U-PS(L,N,S)</text>
<text transform="translate(489.2,268.8) rotate(-90)" x="0" y="0" font-size="6.1" font-weight="bold" text-anchor="middle" dominant-baseline="central">|SHAP Value|</text>
<text transform="translate(512.5,205.4) scale(1,1.08)" x="0" y="0" font-size="13.4" font-weight="bold">f</text>
<text x="119.3" y="20.91" font-size="5.3" text-anchor="start" font-weight="normal" >Threshold line of U-IB(L,N,S)</text>
<text x="119.3" y="27.61" font-size="5.3" text-anchor="start" font-weight="normal" >Threshold line of U-OB(L,N,S)</text>
<text x="119.3" y="34.31" font-size="5.3" text-anchor="start" font-weight="normal" >Threshold line of U-PE(L,N,S)</text>
<text x="119.3" y="41.01" font-size="5.3" text-anchor="start" font-weight="normal" >Threshold line of U-PS(L,N,S)</text>
<text x="119.3" y="47.71" font-size="5.3" text-anchor="start" font-weight="normal" >Threshold line of U-TS(L,N,S)</text>
<text transform="translate(390.2,24.8) scale(1,1.12)" font-size="5.3">Threshold line</text>
<text transform="translate(327.75,69.65) scale(1,1.15)" font-size="6.5" text-anchor="middle">Intermediate</text>
<text transform="translate(327.75,76.55) scale(1,1.15)" font-size="6.5" text-anchor="middle">variable</text>
<text transform="translate(382,65.65) scale(1,1.15)" font-size="6.5" text-anchor="middle">Causal</text>
<text transform="translate(382,72.55) scale(1,1.15)" font-size="6.5" text-anchor="middle">variable</text>
<text transform="translate(627.9,34.3) scale(1,1.12)" font-size="5.3">Threshold line</text>
<text transform="translate(578,23) scale(1,1.15)" font-size="6.5" text-anchor="middle">Causal</text>
<text transform="translate(578,29.9) scale(1,1.15)" font-size="6.5" text-anchor="middle">variable</text>
<text transform="translate(661.2,98.9) scale(1,1.15)" font-size="6.5" text-anchor="middle">Intermediate</text>
<text transform="translate(661.2,105.8) scale(1,1.15)" font-size="6.5" text-anchor="middle">variable</text>
<text transform="translate(154.1,220.7) scale(1,1.12)" font-size="5.3">Threshold line</text>
<text transform="translate(59.55,212.65) scale(1,1.15)" font-size="6.5" text-anchor="middle">Intermediate</text>
<text transform="translate(59.55,219.55) scale(1,1.15)" font-size="6.5" text-anchor="middle">variable</text>
<text transform="translate(176.35,281.35) scale(1,1.15)" font-size="6.5" text-anchor="middle">Causal</text>
<text transform="translate(176.35,288.25) scale(1,1.15)" font-size="6.5" text-anchor="middle">variable</text>
<text transform="translate(389.6,220.7) scale(1,1.12)" font-size="5.3">Threshold line</text>
<text transform="translate(294.3,260.8) scale(1,1.15)" font-size="6.5" text-anchor="middle">Intermediate</text>
<text transform="translate(294.3,267.7) scale(1,1.15)" font-size="6.5" text-anchor="middle">variable</text>
<text transform="translate(405.85,248.7) scale(1,1.15)" font-size="6.5" text-anchor="middle">Causal</text>
<text transform="translate(405.85,255.6) scale(1,1.15)" font-size="6.5" text-anchor="middle">variable</text>
<text transform="translate(628.2,220.8) scale(1,1.12)" font-size="5.3">Threshold line</text>
<text transform="translate(548.15,265.45) scale(1,1.15)" font-size="6.5" text-anchor="middle">Intermediate</text>
<text transform="translate(548.15,272.35) scale(1,1.15)" font-size="6.5" text-anchor="middle">variable</text>
<text transform="translate(641,259.3) scale(1,1.15)" font-size="6.5" text-anchor="middle">Causal</text>
<text transform="translate(641,266.2) scale(1,1.15)" font-size="6.5" text-anchor="middle">variable</text>
</g></svg>
</body></html>
